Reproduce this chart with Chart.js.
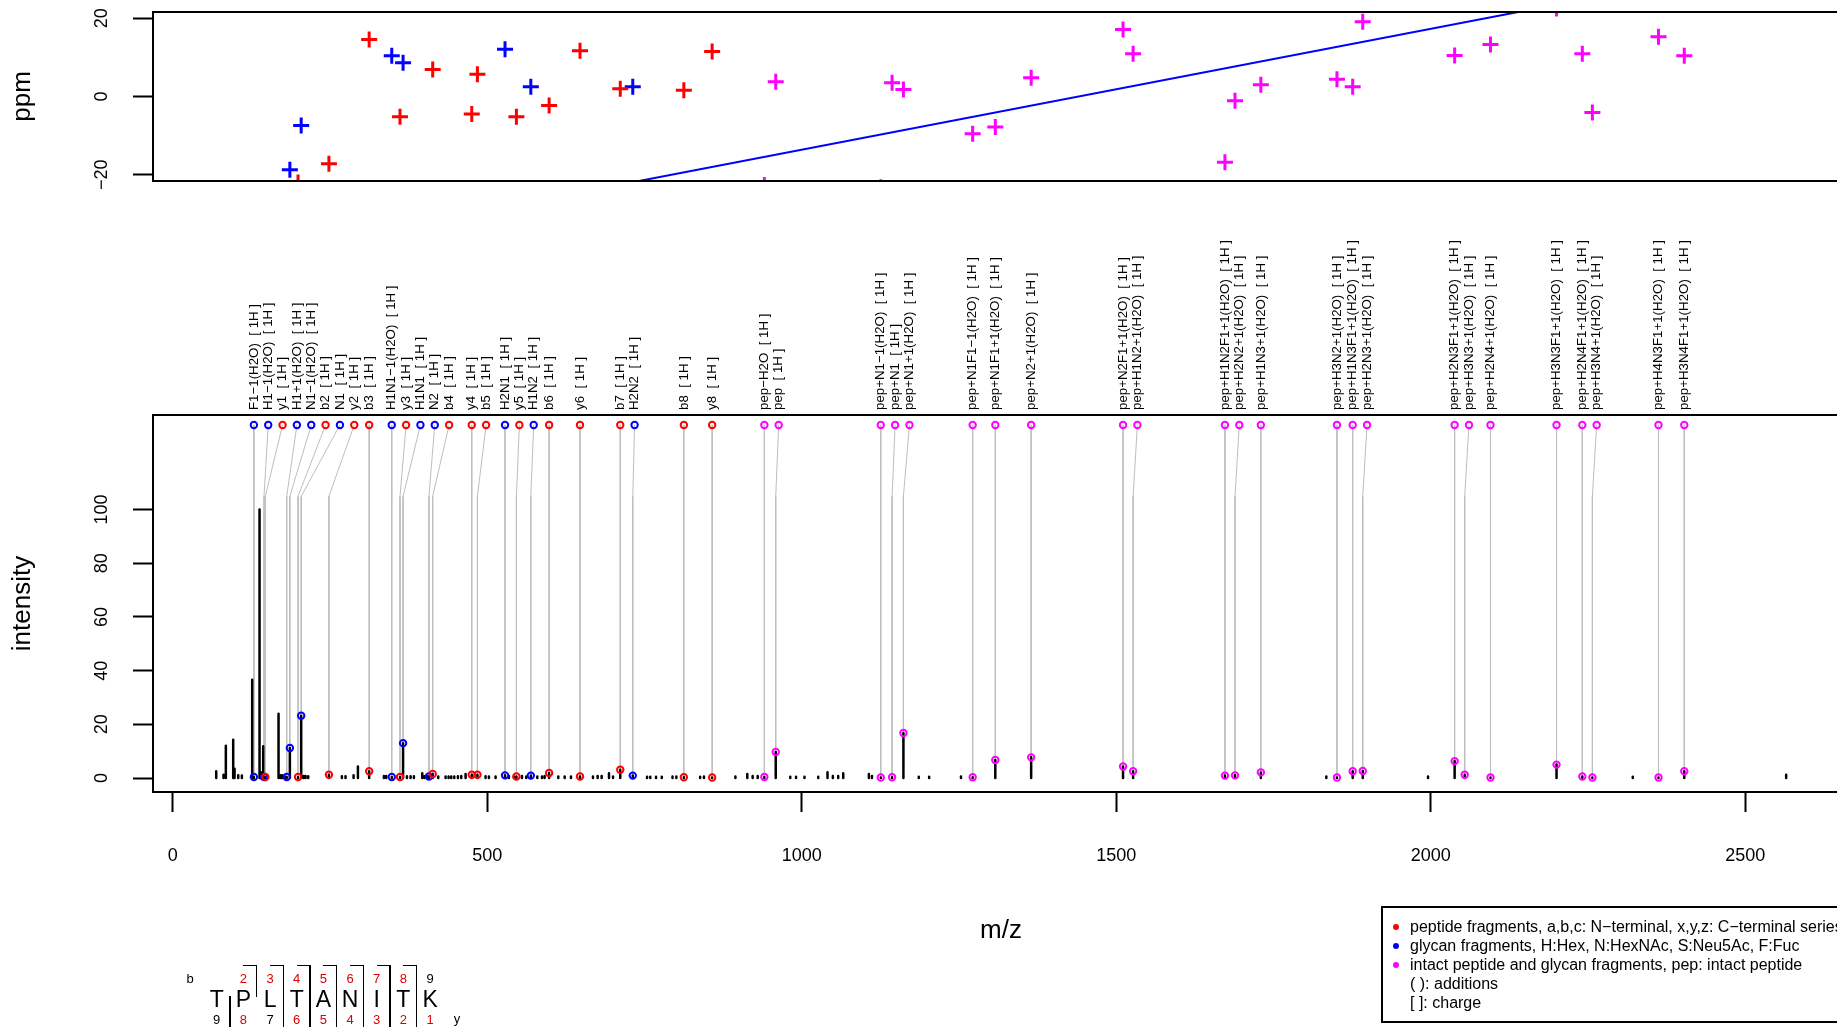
<!DOCTYPE html>
<html>
<head>
<meta charset="utf-8">
<script src="https://cdn.jsdelivr.net/npm/chart.js@4.4.1/dist/chart.umd.min.js"></script>
<style>
  html, body { margin: 0; padding: 0; overflow: hidden; background: #fff; }
  #page { position: relative; width: 1900px; height: 1027px; font-family: "Liberation Sans", Arial, sans-serif; color: #000; }
  #ppmCanvas { position: absolute; left: 0; top: 0; }
  #specCanvas { position: absolute; left: 0; top: 200px; }
  .abs { position: absolute; white-space: pre; line-height: 1; transform: translate(-50%, -50%); }
  .line { position: absolute; background: #000; }
  #legend { position: absolute; left: 1381px; top: 906px; width: 520px; height: 117px; border: 2px solid #000; box-sizing: border-box; }
  #legend .row { position: absolute; left: 27px; font-size: 16px; line-height: 1; transform: translateY(-50%); white-space: pre; }
  #legend .dot { position: absolute; left: 10px; width: 6px; height: 6px; border-radius: 50%; transform: translateY(-50%); }
</style>
</head>
<body>
<div id="page">
  <canvas id="ppmCanvas" width="1900" height="200"></canvas>
  <canvas id="specCanvas" width="1900" height="827"></canvas>
  <div id="legend"></div>
  <div id="sequence"></div>
</div>
<script>
// Pics annotés : nom, type (p = peptide, g = glycane, i = peptide intact + glycane), m/z, intensité, erreur ppm
const annLabel = [
  "F1−1(H2O)", "H1−1(H2O)", "y1", "H1+1(H2O)", "N1−1(H2O)", "b2", "N1", "y2", "b3",
  "H1N1−1(H2O)", "y3", "H1N1", "N2", "b4", "y4", "b5", "H2N1", "y5", "H1N2", "b6",
  "y6", "b7", "H2N2", "b8", "y8", "pep−H2O", "pep", "pep+N1−1(H2O)", "pep+N1",
  "pep+N1+1(H2O)", "pep+N1F1−1(H2O)", "pep+N1F1+1(H2O)", "pep+N2+1(H2O)",
  "pep+N2F1+1(H2O)", "pep+H1N2+1(H2O)", "pep+H1N2F1+1(H2O)", "pep+H2N2+1(H2O)",
  "pep+H1N3+1(H2O)", "pep+H3N2+1(H2O)", "pep+H1N3F1+1(H2O)", "pep+H2N3+1(H2O)",
  "pep+H2N3F1+1(H2O)", "pep+H3N3+1(H2O)", "pep+H2N4+1(H2O)", "pep+H3N3F1+1(H2O)",
  "pep+H2N4F1+1(H2O)", "pep+H3N4+1(H2O)", "pep+H4N3F1+1(H2O)", "pep+H3N4F1+1(H2O)",
];
const annType = [
  "g", "g", "p", "g", "g", "p", "g", "p", "p", "g", "p", "g", "g", "p", "p", "p", "g",
  "p", "g", "p", "p", "p", "g", "p", "p", "i", "i", "i", "i", "i", "i", "i", "i", "i",
  "i", "i", "i", "i", "i", "i", "i", "i", "i", "i", "i", "i", "i", "i", "i",
];
const annMz = [
  128.9, 145.0, 147.1, 181.1, 186.1, 199.1, 204.1, 248.2, 312.2, 348.1, 361.2, 366.1,
  407.2, 413.2, 475.3, 484.3, 528.2, 546.3, 569.2, 598.3, 647.4, 711.4, 731.3, 812.5,
  857.5, 940.5, 958.6, 1125.6, 1143.6, 1161.6, 1271.7, 1307.7, 1364.7, 1510.8, 1526.8,
  1672.8, 1688.8, 1729.9, 1850.9, 1875.9, 1891.9, 2038.0, 2054.0, 2095.0, 2200.0,
  2241.0, 2257.0, 2362.1, 2403.1,
];
const annIntensity = [
  0.4, 0.4, 0.4, 0.4, 11.2, 0.4, 23.2, 1.2, 2.5, 0.4, 0.4, 13.0, 0.6, 1.5, 1.2, 1.2,
  1.0, 0.6, 0.9, 1.9, 0.6, 3.1, 0.9, 0.3, 0.2, 0.4, 9.7, 0.2, 0.3, 16.8, 0.3, 6.7, 7.7,
  4.3, 2.5, 0.9, 1.0, 2.1, 0.2, 2.5, 2.6, 6.3, 1.2, 0.2, 5.0, 0.6, 0.2, 0.2, 2.5,
];
const annPpm = [
  null, null, null, null, -18.7, -22.0, -7.4, -17.2, 14.6, 10.4, -5.2, 8.6, null, 6.9,
  -4.5, 5.7, 12.1, -5.2, 2.5, -2.3, 11.7, 2.0, 2.5, 1.6, 11.5, -22.6, 3.8, -23.2, 3.5,
  1.8, -9.5, -7.8, 4.8, 17.1, 10.9, -16.8, -1.1, 3.0, 4.4, 2.5, 19.1, 10.5, 23.6, 13.3,
  22.5, 10.9, -4.1, 15.3, 10.4,
];
const chargeTag = "  [ 1H ]";

// Pics non annotés du spectre
const otherMz = [
  69.0, 80.6, 84.3, 96.0, 98.2, 104.0, 109.8, 126.2, 137.9, 140.0, 143.7, 168.1, 171.3,
  174.0, 177.6, 207.9, 211.1, 215.3, 268.8, 274.6, 287.4, 294.3, 335.6, 339.3, 372.2,
  378.0, 383.3, 396.6, 400.3, 404.5, 422.0, 433.7, 438.5, 442.7, 447.5, 453.3, 458.6,
  465.5, 497.3, 502.6, 513.2, 534.4, 542.3, 555.1, 562.0, 579.5, 586.9, 591.1, 612.9,
  623.0, 633.0, 668.0, 675.4, 681.8, 693.5, 699.9, 754.0, 759.1, 768.3, 777.4, 794.5,
  800.6, 838.4, 844.5, 894.5, 913.4, 921.9, 929.9, 981.7, 990.9, 1004.3, 1026.2, 1040.9,
  1049.4, 1057.9, 1065.9, 1106.7, 1111.6, 1186.0, 1202.5, 1253.1, 1834.0, 1995.7,
  2321.2, 2565.1,
];
const otherIntensity = [
  2.5, 1.2, 12.0, 14.3, 3.5, 1.0, 0.9, 36.6, 100.0, 2.2, 11.8, 23.9, 1.0,
  1.0, 0.8, 0.8, 0.8, 0.7, 0.7, 0.7, 1.0, 4.3, 0.8, 0.8, 0.7,
  0.7, 0.7, 1.8, 0.7, 0.7, 0.6, 0.6, 0.6, 0.6, 0.6, 0.7, 0.8,
  1.5, 0.7, 0.6, 0.6, 0.8, 0.6, 0.8, 0.6, 0.6, 0.6, 0.8, 0.6,
  0.6, 0.6, 0.6, 0.8, 0.8, 1.8, 0.6, 0.5, 0.5, 0.5, 0.5, 0.6,
  0.6, 0.5, 0.6, 0.6, 1.5, 0.8, 0.8, 0.5, 0.5, 0.5, 0.5, 2.2,
  0.8, 0.8, 1.8, 1.5, 0.8, 0.5, 0.5, 0.6, 0.6, 0.6,
  0.5, 1.2,
];

// Droite de tendance des erreurs de masse (ppm = a + b * m/z)
const fitIntercept = -44.5;
const fitSlope = 0.0309;

const xTicks = [0, 500, 1000, 1500, 2000, 2500];
const intensityTicks = [0, 20, 40, 60, 80, 100];
const ppmTicks = [-20, 0, 20];

const legendItems = [
  { color: "#ff0000", text: "peptide fragments, a,b,c: N−terminal, x,y,z: C−terminal series" },
  { color: "#0000ff", text: "glycan fragments, H:Hex, N:HexNAc, S:Neu5Ac, F:Fuc" },
  { color: "#ff00ff", text: "intact peptide and glycan fragments, pep: intact peptide" },
  { color: null, text: "( ): additions" },
  { color: null, text: "[ ]: charge" },
];

const residues = ["T", "P", "L", "T", "A", "N", "I", "T", "K"];
const bFound = [2, 3, 4, 5, 6, 7, 8];
const yFound = [1, 2, 3, 4, 5, 6, 8];

const TYPE_COLORS = { p: "#ff0000", g: "#0000ff", i: "#ff00ff" };
const FONT = '"Liberation Sans", Arial, sans-serif';
const MZ_MIN = -31.5, MZ_MAX = 2665;
const TOP_LEVEL = 131.5;   // niveau des cercles d'étiquette
const ELBOW_LEVEL = 104.9; // coude des traits de liaison
const LABEL_GAP = 22.8;    // écart minimal entre étiquettes (m/z)

Chart.defaults.font.family = FONT;
Chart.defaults.color = "#000";

// Étiquettes décalées pour ne pas se chevaucher
const labelMz = [];
annMz.forEach((m, i) => labelMz.push(i === 0 ? m : Math.max(m, labelMz[i - 1] + LABEL_GAP)));

function fixedTicks(values) {
  return (scale) => { scale.ticks = values.map((v) => ({ value: v })); };
}

function rotText(ctx, txt, x, y, align, font) {
  ctx.save();
  ctx.translate(x, y);
  ctx.rotate(-Math.PI / 2);
  ctx.font = font;
  ctx.fillStyle = "#000";
  ctx.textAlign = align;
  ctx.textBaseline = "middle";
  ctx.fillText(txt, 0, 0);
  ctx.restore();
}

const boxPlugin = {
  id: "box",
  afterDraw(chart) {
    const { ctx, chartArea: a } = chart;
    ctx.save();
    ctx.strokeStyle = "#000";
    ctx.lineWidth = 2;
    ctx.strokeRect(a.left, a.top, a.right - a.left, a.bottom - a.top);
    ctx.restore();
  },
};

// Étiquettes de l'axe y tournées (comme R) et titre de l'axe
function yAxisText(title) {
  return {
    id: "yAxisText",
    afterDraw(chart) {
      const { ctx, chartArea: a } = chart;
      const y = chart.scales.y;
      y.ticks.forEach((t) => {
        rotText(ctx, String(t.value).replace("-", "−"), 102, y.getPixelForValue(t.value), "center", "18px " + FONT);
      });
      rotText(ctx, title, 23, (a.top + a.bottom) / 2, "center", "26px " + FONT);
    },
  };
}

function ppmSeries(type) {
  const pts = [];
  annMz.forEach((m, i) => {
    if (annType[i] === type && annPpm[i] !== null) pts.push({ x: m, y: annPpm[i] });
  });
  return {
    data: pts,
    pointStyle: "cross",
    pointRadius: 8,
    pointBorderWidth: 3,
    borderColor: TYPE_COLORS[type],
    backgroundColor: TYPE_COLORS[type],
    clip: 0,
  };
}

new Chart(document.getElementById("ppmCanvas"), {
  type: "scatter",
  data: {
    datasets: [
      ppmSeries("p"),
      ppmSeries("g"),
      ppmSeries("i"),
      {
        type: "line",
        data: [MZ_MIN, MZ_MAX].map((m) => ({ x: m, y: fitIntercept + fitSlope * m })),
        borderColor: "#0000ff",
        borderWidth: 2,
        pointRadius: 0,
        clip: 0,
      },
    ],
  },
  options: {
    responsive: false,
    animation: false,
    layout: { padding: { left: 0, top: 12, right: 51, bottom: 19 } },
    plugins: { legend: { display: false }, tooltip: { enabled: false } },
    scales: {
      x: { type: "linear", min: MZ_MIN, max: MZ_MAX, display: false },
      y: {
        type: "linear",
        min: -21.6,
        max: 21.6,
        afterBuildTicks: fixedTicks(ppmTicks),
        afterFit: (s) => { s.width = 153; },
        border: { display: false },
        grid: { drawOnChartArea: false, drawTicks: true, tickLength: 20, tickWidth: 2, tickColor: "#000" },
        ticks: { display: false },
      },
    },
  },
  plugins: [boxPlugin, yAxisText("ppm")],
});

// Segments verticaux du spectre : (m/z, 0) -> (m/z, intensité), séparés par des trous
const sticks = [];
otherMz.concat(annMz).forEach((m, i) => {
  const h = i < otherMz.length ? otherIntensity[i] : annIntensity[i - otherMz.length];
  sticks.push({ x: m, y: 0 }, { x: m, y: h }, { x: m, y: null });
});

// Traits de liaison gris : cercle d'étiquette -> coude -> sommet du pic
const links = [];
annMz.forEach((m, i) => {
  links.push({ x: labelMz[i], y: TOP_LEVEL }, { x: m, y: ELBOW_LEVEL }, { x: m, y: annIntensity[i] }, { x: m, y: null });
});

const peakLabelsPlugin = {
  id: "peakLabels",
  afterDraw(chart) {
    const { ctx, chartArea: a } = chart;
    const x = chart.scales.x;
    annLabel.forEach((name, i) => {
      rotText(ctx, name + chargeTag, x.getPixelForValue(labelMz[i]), a.top - 5, "left", "13.3px " + FONT);
    });
    ctx.save();
    ctx.font = "26px " + FONT;
    ctx.fillStyle = "#000";
    ctx.textAlign = "center";
    ctx.textBaseline = "middle";
    ctx.fillText("m/z", (a.left + a.right) / 2, 731);
    ctx.restore();
  },
};

const circleStyle = {
  pointStyle: "circle",
  pointRadius: 3.2,
  pointBorderWidth: 2,
  backgroundColor: "rgba(0,0,0,0)",
  pointBackgroundColor: "rgba(0,0,0,0)",
  showLine: false,
};

new Chart(document.getElementById("specCanvas"), {
  type: "scatter",
  data: {
    datasets: [
      {
        ...circleStyle,
        order: 0,
        data: annMz.map((m, i) => ({ x: m, y: annIntensity[i] })),
        pointBorderColor: annType.map((t) => TYPE_COLORS[t]),
      },
      {
        ...circleStyle,
        order: 1,
        data: labelMz.map((m) => ({ x: m, y: TOP_LEVEL })),
        pointBorderColor: annType.map((t) => TYPE_COLORS[t]),
      },
      {
        type: "line",
        order: 2,
        data: sticks,
        borderColor: "#000",
        borderWidth: 2.5,
        borderCapStyle: "round",
        pointRadius: 0,
        spanGaps: false,
      },
      {
        type: "line",
        order: 3,
        data: links,
        borderColor: "#bebebe",
        borderWidth: 1,
        pointRadius: 0,
        spanGaps: false,
      },
    ],
  },
  options: {
    responsive: false,
    animation: false,
    layout: { padding: { left: 0, top: 215, right: 51, bottom: 0 } },
    plugins: { legend: { display: false }, tooltip: { enabled: false } },
    scales: {
      x: {
        type: "linear",
        min: MZ_MIN,
        max: MZ_MAX,
        afterBuildTicks: fixedTicks(xTicks),
        afterFit: (s) => { s.height = 235; },
        border: { display: false },
        grid: { drawOnChartArea: false, drawTicks: true, tickLength: 20, tickWidth: 2, tickColor: "#000" },
        ticks: {
          font: { size: 18 },
          padding: 33,
          maxRotation: 0,
          autoSkip: false,
          color: "#000",
          callback: (v) => String(v),
        },
      },
      y: {
        type: "linear",
        min: -5.2,
        max: 135.2,
        afterBuildTicks: fixedTicks(intensityTicks),
        afterFit: (s) => { s.width = 153; },
        border: { display: false },
        grid: { drawOnChartArea: false, drawTicks: true, tickLength: 20, tickWidth: 2, tickColor: "#000" },
        ticks: { display: false },
      },
    },
  },
  plugins: [boxPlugin, yAxisText("intensity"), peakLabelsPlugin],
});

// Légende
const legend = document.getElementById("legend");
legendItems.forEach((item, i) => {
  const cy = 18.5 + i * 19.2;
  if (item.color) {
    const dot = document.createElement("div");
    dot.className = "dot";
    dot.style.top = cy + "px";
    dot.style.background = item.color;
    legend.appendChild(dot);
  }
  const row = document.createElement("div");
  row.className = "row";
  row.style.top = cy + "px";
  row.textContent = item.text;
  legend.appendChild(row);
});

// Séquence du peptide avec les coupures b / y observées
const seq = document.getElementById("sequence");
const SEQ_X0 = 216.7, SEQ_STEP = 26.67;
function addText(txt, x, y, size, color) {
  const s = document.createElement("span");
  s.className = "abs";
  s.textContent = txt;
  s.style.left = x + "px";
  s.style.top = y + "px";
  s.style.fontSize = size + "px";
  s.style.color = color;
  seq.appendChild(s);
}
function addLine(x, y, w, h) {
  const d = document.createElement("div");
  d.className = "line";
  d.style.left = x + "px";
  d.style.top = y + "px";
  d.style.width = w + "px";
  d.style.height = h + "px";
  seq.appendChild(d);
}
addText("b", 190, 978, 13, "#000");
addText("y", 457, 1018, 13, "#000");
residues.forEach((r, i) => {
  const cx = SEQ_X0 + i * SEQ_STEP;
  const bn = i + 1, yn = residues.length - i;
  addText(r, cx, 999, 23, "#000");
  if (bn > 1) addText(String(bn), cx, 978, 13, bFound.includes(bn) ? "#dd0000" : "#000");
  addText(String(yn), cx, 1019, 13, yFound.includes(yn) ? "#dd0000" : "#000");
});
bFound.forEach((k) => {
  const vx = SEQ_X0 + (k - 1) * SEQ_STEP + SEQ_STEP / 2;
  addLine(vx - 13.3, 964.5, 13.3, 1.4);
  addLine(vx - 0.7, 964.5, 1.4, 32);
});
yFound.forEach((j) => {
  const vx = SEQ_X0 + (residues.length - 1 - j) * SEQ_STEP + SEQ_STEP / 2;
  addLine(vx - 0.7, 996, 1.4, 34);
});
</script>
</body>
</html>
